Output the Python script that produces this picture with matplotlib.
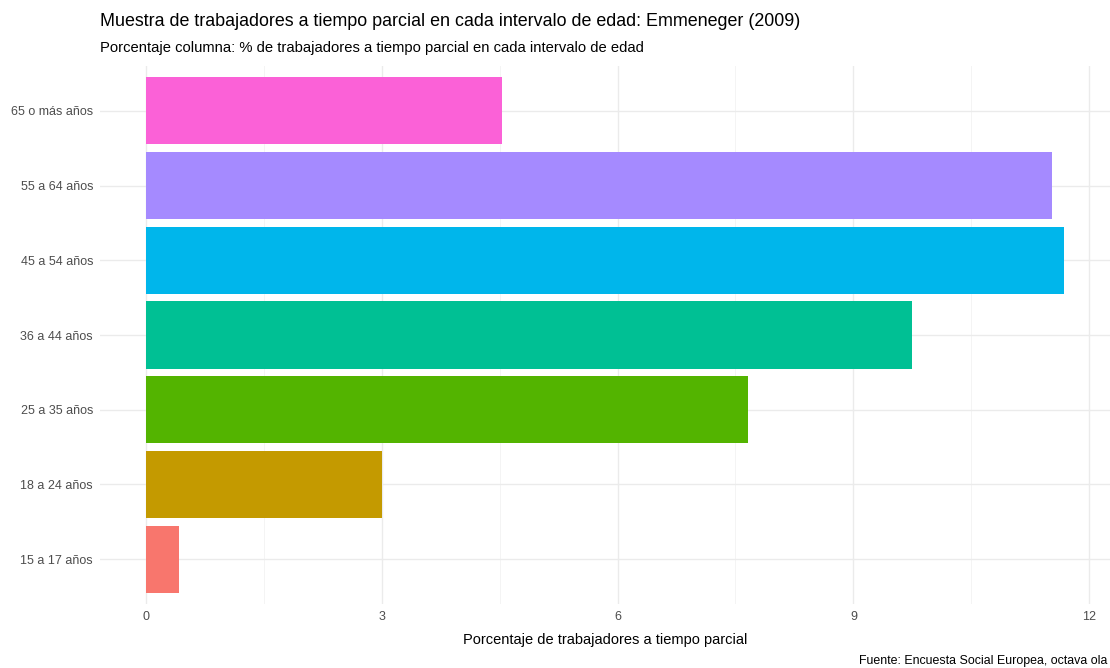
import matplotlib
matplotlib.use("Agg")
import matplotlib.pyplot as plt
from matplotlib import font_manager

categories = ["15 a 17 años", "18 a 24 años", "25 a 35 años", "36 a 44 años",
              "45 a 54 años", "55 a 64 años", "65 o más años"]
values = [0.42, 3.0, 7.66, 9.74, 11.68, 11.53, 4.53]
colors = ["#F8766D", "#C49A00", "#53B400", "#00C094", "#00B6EB", "#A58AFF", "#FB61D7"]
xticks = [0, 3, 6, 9, 12]
minor_xticks = [1.5, 4.5, 7.5, 10.5]

names = {f.name for f in font_manager.fontManager.ttflist}
fam = ["Liberation Sans Narrow", "Liberation Sans", "DejaVu Sans"]
fam = [f for f in fam if f in names] + ["DejaVu Sans"]
plt.rcParams["font.family"] = fam

fig = plt.figure(figsize=(11.1, 6.68), dpi=100)
ax = fig.add_axes([100/1110, 64/668, 1010/1110, (604-66)/668])

ypos = list(range(1, len(categories) + 1))
ax.barh(ypos, values, height=0.9, color=colors, zorder=3)

xmax = max(values)
ax.set_xlim(-0.05*xmax, xmax*1.05)
ax.set_ylim(0.4, len(categories) + 0.6)
ax.set_xticks(xticks)
ax.set_xticks(minor_xticks, minor=True)
ax.set_yticks(ypos)
ax.set_yticklabels(categories)
ax.grid(True, which="major", color="#EBEBEB", linewidth=1.0, zorder=0)
ax.grid(True, which="minor", axis="x", color="#F2F2F2", linewidth=0.6, zorder=0)
for s in ax.spines.values():
    s.set_visible(False)
ax.tick_params(which="both", length=0, labelsize=9, labelcolor="#4D4D4D", pad=5)
ax.set_xlabel("Porcentaje de trabajadores a tiempo parcial", fontsize=10.5, color="black", labelpad=7)

fig.text(100/1110, 1 - 22/668, "Muestra de trabajadores a tiempo parcial en cada intervalo de edad: Emmeneger (2009)",
         fontsize=12.9, va="center", ha="left")
fig.text(100/1110, 1 - 48/668, "Porcentaje columna: % de trabajadores a tiempo parcial en cada intervalo de edad",
         fontsize=10.6, va="center", ha="left")
fig.text(1107/1110, 1 - 661/668, "Fuente: Encuesta Social Europea, octava ola",
         fontsize=8.9, va="center", ha="right")

fig.savefig("out.png", dpi=100)
